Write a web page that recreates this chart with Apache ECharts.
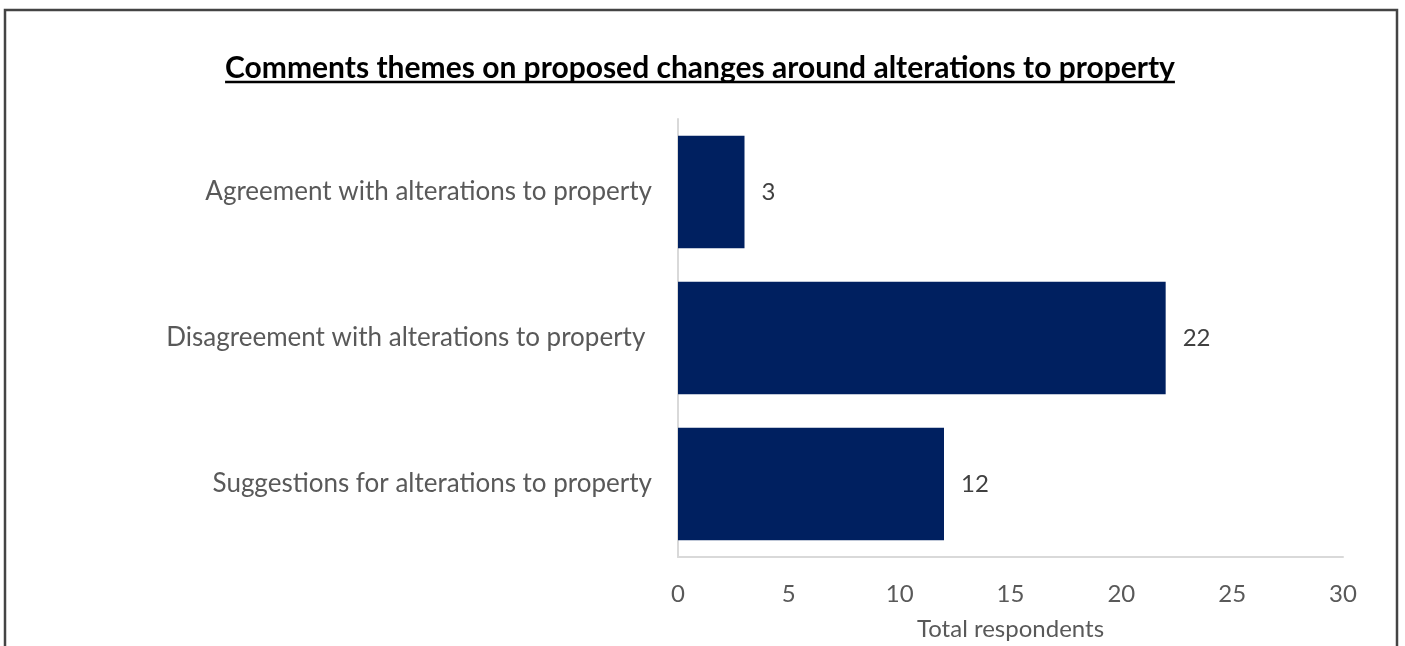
<!DOCTYPE html>
<html>
<head>
<meta charset="utf-8">
<script src="https://cdn.jsdelivr.net/npm/echarts@6/dist/echarts.min.js"></script>
<style>
  html, body { margin: 0; padding: 0; background: #fff; }
  #chart { width: 1405px; height: 646px; }
</style>
</head>
<body>
<div id="chart"></div>
<script>
// data
const categories = [
  'Agreement with alterations to property',
  'Disagreement with alterations to property ',
  'Suggestions for alterations to property'
]
const respondents = [3, 22, 12]
const titleText = 'Comments themes on proposed changes around alterations to property'
const axisName = 'Total respondents'

const font = 'Lato'

// measure the title so the underline fits it
const ctx = document.createElement('canvas').getContext('2d')
ctx.font = 'bold 30px ' + font
const titleW = ctx.measureText(titleText).width
const titleX = 700

let chart = echarts.init(document.getElementById('chart'), null, {renderer: 'canvas'})

chart.setOption({
  animation: false,
  textStyle: {fontFamily: font},
  title: {
    text: titleText,
    left: titleX - titleW / 2,
    top: 53,
    padding: 0,
    textStyle: {fontFamily: font, fontSize: 30, fontWeight: 'bold', color: '#000'}
  },
  grid: {left: 678, right: 62, top: 119, bottom: 82, containLabel: false},
  xAxis: {
    type: 'value',
    min: 0,
    max: 30,
    interval: 5,
    name: axisName,
    nameLocation: 'middle',
    nameGap: 60,
    nameTextStyle: {color: '#595959', fontSize: 24, fontFamily: font},
    axisLine: {show: true, lineStyle: {color: '#d9d9d9', width: 2}},
    axisTick: {show: false},
    splitLine: {show: false},
    axisLabel: {color: '#595959', fontSize: 24, margin: 25, fontFamily: font}
  },
  yAxis: {
    type: 'category',
    inverse: true,
    data: categories,
    axisLine: {show: true, lineStyle: {color: '#d9d9d9', width: 2}},
    axisTick: {show: false},
    axisLabel: {color: '#595959', fontSize: 26, margin: 26, fontFamily: font}
  },
  series: [{
    type: 'bar',
    data: respondents,
    barCategoryGap: '23%',
    itemStyle: {color: '#002060'},
    label: {
      show: true,
      position: 'right',
      distance: 17,
      color: '#404040',
      fontSize: 24,
      fontFamily: font
    }
  }],
  graphic: [
    {
      type: 'rect',
      shape: {x: 5, y: 10, width: 1392, height: 700},
      style: {fill: 'none', stroke: '#444', lineWidth: 2.5},
      silent: true
    },
    {
      type: 'line',
      shape: {x1: titleX - titleW / 2, y1: 82, x2: titleX + titleW / 2, y2: 82},
      style: {stroke: '#000', lineWidth: 2.5},
      silent: true
    }
  ]
})
</script>
</body>
</html>
